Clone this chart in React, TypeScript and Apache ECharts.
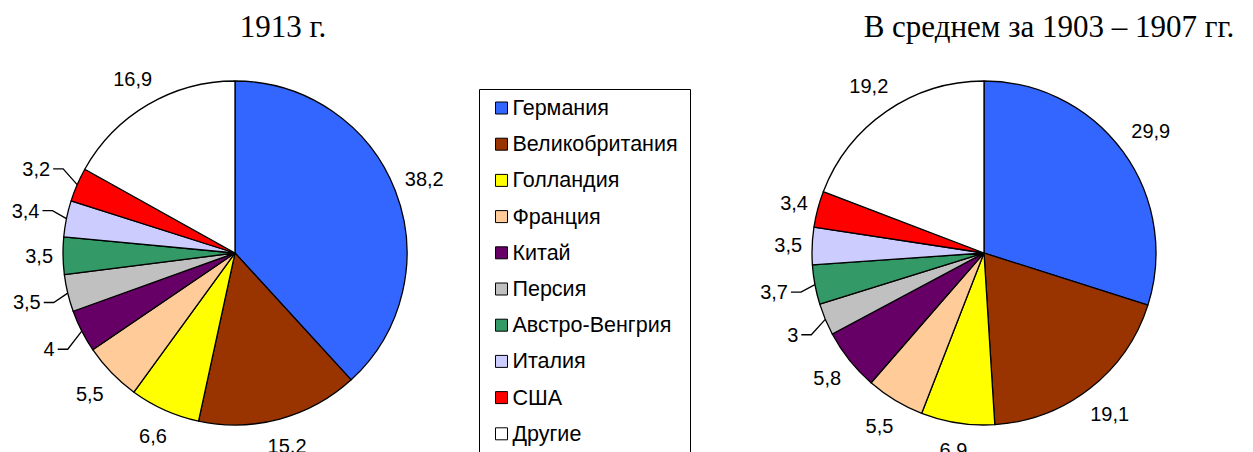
import React, { useEffect, useRef } from 'react';
import * as echarts from 'echarts';

const countries = ['Германия', 'Великобритания', 'Голландия', 'Франция', 'Китай', 'Персия', 'Австро-Венгрия', 'Италия', 'США', 'Другие'];
const share1913 = [38.2, 15.2, 6.6, 5.5, 4, 3.5, 3.5, 3.4, 3.2, 16.9];
const share1903to1907 = [29.9, 19.1, 6.9, 5.5, 5.8, 3, 3.7, 3.5, 3.4, 19.2];
const titles = ['1913 г.', 'В среднем за 1903 – 1907 гг.'];
const colors = ['#3366FF', '#993300', '#FFFF00', '#FFCC99', '#660066', '#C0C0C0', '#339966', '#CCCCFF', '#FF0000', '#FFFFFF'];

// indices of slices whose labels are connected with a leader line
const linedLeft = [4, 5, 7, 8];
const linedRight = [5, 6];

const R = 172;
const CY = 253;
const CX_LEFT = 235;
const CX_RIGHT = 984;
const SANS = 'Liberation Sans, Arial, sans-serif';
const SERIF = 'Liberation Serif, Times New Roman, serif';

const fmt = (v: number) => String(v).replace('.', ',');

const makeLayout = (values: number[], cx: number, cy: number, r: number, lined: number[]) => (p: any) => {
  const i = p.dataIndex;
  const total = values.reduce((a, b) => a + b, 0);
  let cum = 0;
  for (let k = 0; k < i; k++) cum += values[k];
  const mid = (cum + values[i] / 2) / total;
  const a = mid * 2 * Math.PI;
  const dx = Math.sin(a);
  const dy = -Math.cos(a);
  const ex = cx + r * dx;
  const ey = cy + r * dy;
  if (lined.includes(i)) {
    const sx = dx < 0 ? -1 : 1;
    const ly = ey + dy * 40;
    return {
      x: ex + sx * 27,
      y: ly,
      align: sx < 0 ? 'right' : 'left',
      verticalAlign: 'middle',
      labelLinePoints: [[ex, ey], [ex + sx * 14, ly], [ex + sx * 24, ly]],
    };
  }
  const w = p.labelRect ? p.labelRect.width : 40;
  const halfW = w / 2 + 2;
  const halfH = 19;
  const ext = Math.min(
    Math.abs(dx) > 1e-6 ? halfW / Math.abs(dx) : Infinity,
    Math.abs(dy) > 1e-6 ? halfH / Math.abs(dy) : Infinity
  );
  const off = 8 + ext;
  return { x: ex + dx * off, y: ey + dy * off, align: 'center', verticalAlign: 'middle' };
};

const buildData = (values: number[], lined: number[]) =>
  values.map((v, i) => ({
    name: countries[i],
    value: v,
    itemStyle: { color: colors[i] },
    labelLine: { show: lined.includes(i) },
  }));

const pieSeries = (values: number[], cx: number, lined: number[]) => ({
  type: 'pie',
  center: [cx, CY],
  radius: R,
  startAngle: 90,
  clockwise: true,
  avoidLabelOverlap: false,
  silent: true,
  itemStyle: { borderColor: '#000', borderWidth: 1.3 },
  label: {
    show: true,
    position: 'outside',
    formatter: (p: any) => fmt(p.value),
    color: '#000',
    fontFamily: SANS,
    fontSize: 20,
  },
  labelLine: { show: true, length: 14, length2: 10, lineStyle: { color: '#000', width: 1.3 } },
  labelLayout: makeLayout(values, cx, CY, R, lined),
  data: buildData(values, lined),
});

export default function App() {
  const ref = useRef<HTMLDivElement>(null);
  useEffect(() => {
    if (!ref.current) return;
    const chart = echarts.init(ref.current, undefined, { renderer: 'svg' });
    chart.setOption({
      animation: false,
      backgroundColor: '#fff',
      legend: {
        orient: 'vertical',
        left: 495,
        top: 97,
        padding: 0,
        itemWidth: 12,
        itemHeight: 12,
        itemGap: 14.2,
        icon: 'rect',
        selectedMode: false,
        itemStyle: { borderColor: '#000', borderWidth: 1 },
        textStyle: { fontFamily: SANS, fontSize: 21.5, color: '#000', lineHeight: 22 },
        data: countries,
      },
      graphic: [
        {
          type: 'rect',
          shape: { x: 479.5, y: 89.5, width: 211, height: 420 },
          style: { fill: 'none', stroke: '#000', lineWidth: 1 },
          silent: true,
        },
        {
          type: 'text',
          x: 283,
          y: 26,
          style: { text: titles[0], fontFamily: SERIF, fontSize: 31, fill: '#000', align: 'center', verticalAlign: 'middle' },
        },
        {
          type: 'text',
          x: 1049,
          y: 26,
          style: { text: titles[1], fontFamily: SERIF, fontSize: 31, fill: '#000', align: 'center', verticalAlign: 'middle' },
        },
      ],
      series: [
        pieSeries(share1913, CX_LEFT, linedLeft),
        pieSeries(share1903to1907, CX_RIGHT, linedRight),
      ],
    });
    return () => chart.dispose();
  }, []);
  return <div ref={ref} style={{ position: 'absolute', left: 0, top: 0, width: 1253, height: 452 }} />;
}
